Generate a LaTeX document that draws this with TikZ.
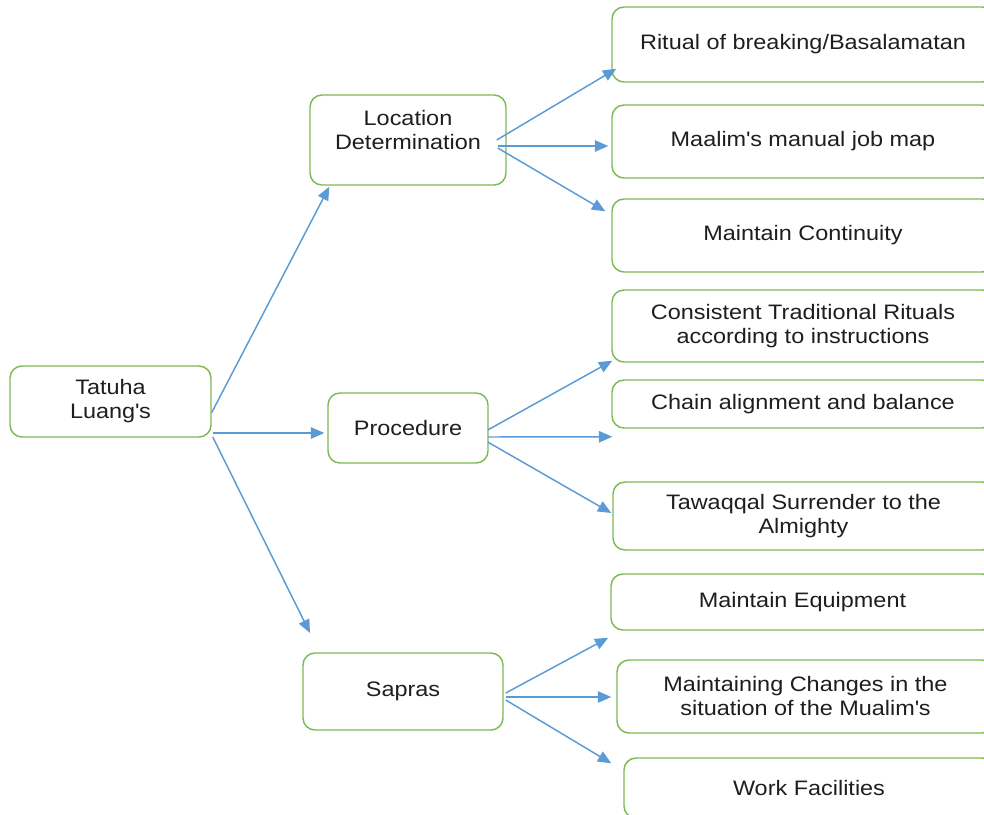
\documentclass[tikz,border=0pt]{standalone}
\usepackage{fontspec}
\setmainfont{Liberation Sans}[FakeStretch=1.12]
\usetikzlibrary{arrows.meta,calc}
\definecolor{boxgreen}{RGB}{125,185,85}
\definecolor{arrblue}{RGB}{91,155,213}
\definecolor{txtgray}{RGB}{30,30,30}
\newcommand{\apos}{\textquotesingle}
\begin{document}
\begin{tikzpicture}[x=0.75pt,y=-0.75pt,
  box/.style={draw=boxgreen, line width=1.1pt, rounded corners=9pt, rectangle,
    inner sep=0pt, align=center, text=txtgray, font=\fontsize{15.7}{18}\selectfont},
  bx/.style n args={2}{minimum width=#1*0.75pt, minimum height=#2*0.75pt},
  txt/.style={inner sep=0pt, align=center, text=txtgray, font=\fontsize{15.7}{18}\selectfont},
  conn/.style={draw=arrblue, line width=1.1pt, -{Triangle[length=10pt,width=8.5pt]}},
]
\useasboundingbox (0,0) rectangle (984,814);
\clip (0,0) rectangle (984,814);

% left and middle boxes
\node[box, bx={201}{71}] (tat) at (110.5,401.5) {Tatuha\\Luang\apos s};
\node[box, bx={196}{90}] (loc) at (408,140) {};
\node[txt] (loctxt) at (408,130) {Location\\Determination};
\node[box, bx={160}{70}] (proc) at (408,428) {Procedure};
\node[box, bx={200}{77}] (sap) at (403,691.5) {Sapras};

% right boxes
\node[box, bx={382}{75}] (r1) at (803,44.5) {Ritual of breaking/Basalamatan};
\node[box, bx={382}{73}] (r2) at (803,141.5) {Maalim\apos s manual job map};
\node[box, bx={382}{73}] (r3) at (803,235.5) {Maintain Continuity};
\node[box, bx={382}{72}] (r4) at (803,326) {Consistent Traditional Rituals\\according to instructions};
\node[box, bx={382}{48}] (r5) at (803,404) {Chain alignment and balance};
\node[box, bx={381}{68}] (r6) at (803.5,516) {Tawaqqal Surrender to the\\Almighty};
\node[box, bx={383}{56}] (r7) at (802.5,602) {Maintain Equipment};
\node[box, bx={377}{73}] (r8) at (805.5,696.5) {Maintaining Changes in the\\situation of the Mualim\apos s};
\node[box, bx={370}{60}] (r9) at (809,788) {Work Facilities};

% free arrow ends
\coordinate (sapT) at (310,633);
\coordinate (chainT) at ($(r5.south west)+(1,8)$);

% arrows from Tatuha
\draw[conn] ($(tat.east)+(0,11)$) -- ($(loc.south west)+(20,1)$);
\draw[conn] ($(tat.east)+(1,31.5)$) -- ($(proc.west)+(-3,5)$);
\draw[conn] ($(tat.east)+(1,35.5)$) -- (sapT);

% arrows from Location Determination
\draw[conn] ($(loc.east)+(-10,0)$) -- ($(r1.south west)+(5,-14)$);
\draw[conn] ($(loc.east)+(-9,6)$) -- ($(r2.west)+(-3,4.5)$);
\draw[conn] ($(loc.east)+(-9,8)$) -- ($(r3.north west)+(-6,13)$);

% arrows from Procedure
\draw[conn] ($(proc.east)+(-1,2)$) -- ($(r4.south west)+(1,-2)$);
\draw[conn] ($(proc.east)+(-1,9)$) -- (chainT);
\draw[conn] ($(proc.east)+(-1,14)$) -- ($(r6.west)+(-1,-3)$);

% arrows from Sapras
\draw[conn] ($(sap.east)+(2,1.5)$) -- ($(r7.south west)+(-2,7)$);
\draw[conn] ($(sap.east)+(2,5.5)$) -- ($(r8.west)+(-5,0.5)$);
\draw[conn] ($(sap.east)+(2,8.5)$) -- ($(r9.north west)+(-12,6)$);
\end{tikzpicture}
\end{document}
